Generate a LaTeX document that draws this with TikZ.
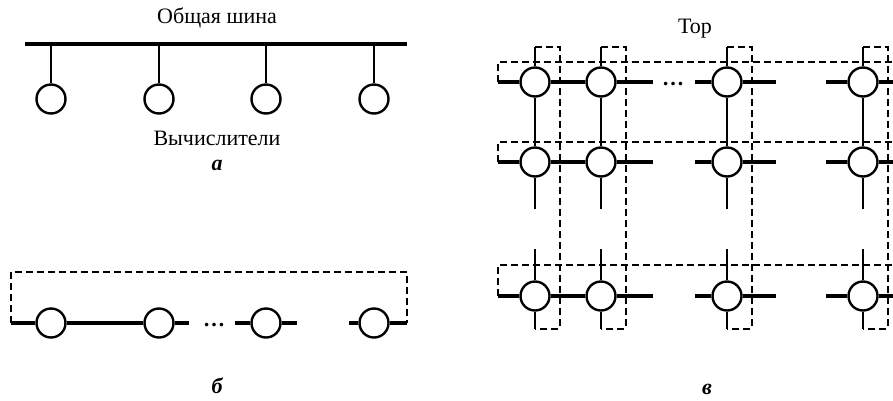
\documentclass[tikz,border=0pt]{standalone}
\usepackage{fontspec}
\setmainfont{Liberation Serif}
\begin{document}
\begin{tikzpicture}[x=1pt,y=-1pt,
    pe/.style={circle,draw,line width=2.4pt,minimum size=29pt,inner sep=0pt},
    bus/.style={line width=4.5pt},
    link/.style={line width=4pt},
    stub/.style={line width=2.6pt},
    ring/.style={line width=2.2pt,dash pattern=on 7pt off 4pt},
    lbl/.style={font=\fontsize{22}{24}\selectfont},
    tag/.style={inner sep=1pt,font=\fontsize{22}{24}\selectfont\bfseries\itshape}]
  \useasboundingbox (0,0) rectangle (893,400);
  \clip (0,0) rectangle (893,400);

  % a) common bus
  \node[lbl] (bustxt) at (217,18) {Общая шина};
  \coordinate (busl) at (25,44);
  \coordinate (busr) at (407,44);
  \draw[bus] (busl) -- (busr);
  \foreach \i/\x in {1/51,2/159,3/266,4/374} {
    \node[pe] (a\i) at (\x,99) {};
    \draw[stub] (a\i.north) -- (a\i.north |- busl);
  }
  \node[lbl] (calc) at (217,138) {Вычислители};
  \node[tag] (taga) at (217,165) {а};

  % b) ring
  \foreach \i/\x in {1/51,2/159,3/266,4/374}
    \node[pe] (b\i) at (\x,323) {};
  \coordinate (bl) at (11,323);
  \coordinate (br) at (407,323);
  \draw[link] (bl) -- (b1);
  \draw[link] (b1) -- (b2);
  \draw[link] (b2.east) -- ++(14,0);
  \draw[link] (b3.west) -- ++(-15,0);
  \draw[link] (b3.east) -- ++(15,0);
  \draw[link] (b4.west) -- ++(-9,0);
  \draw[link] (b4) -- (br);
  \node[lbl] (bdots) at (214,325) {\textbf{\dots}};
  \draw[ring] (bl) -- ++(0,-51) -| (br);
  \node[tag] (tagb) at (217,386) {б};

  % c) torus
  \node[lbl] (tortxt) at (695,29) {Тор};
  \foreach \r/\y in {1/82,2/162,3/296}
    \foreach \c/\x in {1/535,2/601,3/727,4/863}
      \node[pe] (c\r\c) at (\x,\y) {};
  \foreach \r/\h in {1/20,2/20,3/31} {
    \draw[link] (c\r1.west) -- ++(-21,0) coordinate (cl\r);
    \draw[link] (c\r1) -- (c\r2);
    \draw[link] (c\r2.east) -- ++(36,0);
    \draw[link] (c\r3.west) -- ++(-16,0);
    \draw[link] (c\r3.east) -- ++(33,0);
    \draw[link] (c\r4.west) -- ++(-21,0);
    \draw[link] (c\r4.east) -- ++(40,0);
    \draw[ring] (cl\r) -- ++(0,-\h) -- ++(420,0);
  }
  \node[lbl] (cdots) at (673,84) {\textbf{\dots}};
  \foreach \c in {1,...,4} {
    \draw[stub] (c1\c.north) -- ++(0,-19) coordinate (ct\c);
    \draw[stub] (c1\c) -- (c2\c);
    \draw[stub] (c2\c.south) -- ++(0,31);
    \draw[stub] (c3\c.north) -- ++(0,-31);
    \draw[stub] (c3\c.south) -- ++(0,17) coordinate (cb\c);
    \draw[ring] (ct\c) -- ++(25,0) |- (cb\c);
  }
  \node[tag] (tagc) at (707,389) {в};
\end{tikzpicture}
\end{document}
